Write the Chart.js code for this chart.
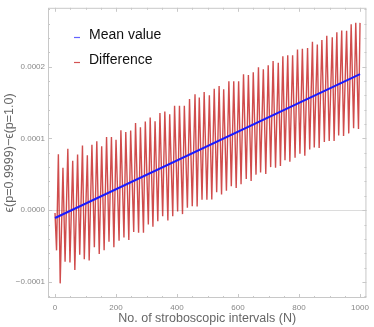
<!DOCTYPE html>
<html>
<head>
<meta charset="utf-8">
<script src="https://cdn.jsdelivr.net/npm/chart.js@4.4.1/dist/chart.umd.min.js"></script>
<style>
  body { margin: 0; background: #fff; }
</style>
</head>
<body>
<canvas id="c" width="374" height="327"></canvas>
<script>
// start of the difference curve
const startN = 0;
const startV = -0.4e-5;

// local minima (each one comes just before the peak with the same index)
const troughN = [5, 17, 33, 49, 65, 81, 96, 112, 129, 145,
    161, 177, 193, 210, 226, 242, 258, 274, 290, 306,
    321, 337, 353, 370, 386, 402, 418, 434, 450, 466,
    482, 498, 514, 530, 546, 562, 578, 594, 610, 627,
    643, 659, 674, 691, 707, 723, 739, 754, 770, 787,
    803, 819, 835, 850, 866, 883, 899, 915, 930, 946,
    963, 979, 995];
const troughV = [-5.6e-5, -10.2e-5, -7.2e-5, -7.3e-5, -8.35e-5, -6.2e-5, -6.85e-5, -7.0e-5, -5.15e-5, -6.1e-5,
    -5.6e-5, -4.4e-5, -5.15e-5, -4.25e-5, -3.8e-5, -4.15e-5, -3.05e-5, -3.15e-5, -3.15e-5, -2.0e-5,
    -2.3e-5, -1.55e-5, -0.85e-5, -1.45e-5, -0.85e-5, -0.2e-5, -0.55e-5, 0.35e-5, 0.55e-5, 0.5e-5,
    1.45e-5, 1.45e-5, 1.5e-5, 2.5e-5, 2.2e-5, 2.7e-5, 3.35e-5, 3.1e-5, 3.6e-5, 4.35e-5,
    4.05e-5, 4.95e-5, 5.25e-5, 5.05e-5, 6.0e-5, 5.9e-5, 6.15e-5, 6.95e-5, 6.75e-5, 7.3e-5,
    7.85e-5, 7.6e-5, 8.45e-5, 8.75e-5, 8.65e-5, 9.5e-5, 9.65e-5, 9.65e-5, 10.4e-5, 10.35e-5,
    10.7e-5, 11.4e-5, 11.3e-5];

// local maxima
const peakN = [11, 26, 42, 58, 74, 90, 106, 121, 137, 153,
    169, 185, 200, 216, 232, 248, 264, 280, 296, 312,
    328, 344, 360, 376, 392, 408, 424, 441, 459, 473,
    489, 506, 522, 538, 553, 570, 586, 602, 618, 634,
    650, 667, 683, 699, 715, 732, 747, 763, 779, 795,
    811, 828, 844, 860, 875, 891, 909, 924, 940, 956,
    971, 986, 1000];
const peakV = [7.8e-5, 5.9e-5, 8.55e-5, 6.9e-5, 7.75e-5, 9.0e-5, 7.65e-5, 9.1e-5, 9.6e-5, 8.9e-5,
    10.2e-5, 10.2e-5, 9.8e-5, 11.15e-5, 10.9e-5, 11.1e-5, 12.15e-5, 11.55e-5, 12.35e-5, 12.9e-5,
    12.4e-5, 13.55e-5, 13.75e-5, 13.35e-5, 14.55e-5, 14.55e-5, 14.55e-5, 15.5e-5, 16.15e-5, 15.7e-5,
    16.45e-5, 16.0e-5, 16.9e-5, 17.3e-5, 16.85e-5, 17.95e-5, 17.95e-5, 17.95e-5, 18.95e-5, 18.85e-5,
    19.2e-5, 19.9e-5, 19.65e-5, 20.2e-5, 20.8e-5, 20.55e-5, 21.45e-5, 21.6e-5, 21.6e-5, 22.4e-5,
    22.5e-5, 22.6e-5, 23.45e-5, 23.1e-5, 23.7e-5, 24.3e-5, 24.1e-5, 24.8e-5, 25.05e-5, 25.0e-5,
    25.9e-5, 26.1e-5, 26.1e-5];

// mean value line (end points)
const meanN = [0, 1000];
const meanV = [-1.09e-5, 18.95e-5];

const xTicks = [0, 200, 400, 600, 800, 1000];
const xMinor = [50, 100, 150, 250, 300, 350, 450, 500, 550, 650, 700, 750, 850, 900, 950];
const yTicks = [-0.0001, 0, 0.0001, 0.0002];
const yMinor = [-0.00012, -0.00008, -0.00006, -0.00004, -0.00002, 0.00002, 0.00004, 0.00006, 0.00008,
    0.00012, 0.00014, 0.00016, 0.00018, 0.00022, 0.00024, 0.00026, 0.00028];

const seriesNames = ['Mean value', 'Difference'];

let diffPoints = [{x: startN, y: startV}];
for (let i = 0; i < peakN.length; i++) {
    diffPoints.push({x: troughN[i], y: troughV[i]});
    diffPoints.push({x: peakN[i], y: peakV[i]});
}
const meanPoints = meanN.map((n, i) => ({x: n, y: meanV[i]}));

// frame with inward ticks like the original
const framePlugin = {
    id: 'frame',
    beforeDatasetsDraw(chart) {
        const {ctx, chartArea: a, scales} = chart;
        ctx.save();
        ctx.strokeStyle = '#c8c8c8';
        ctx.lineWidth = 1;
        ctx.strokeRect(a.left + 0.5, a.top + 0.5, a.right - a.left - 1, a.bottom - a.top - 1);
        ctx.beginPath();
        const tickX = (v, len) => {
            const px = Math.round(scales.x.getPixelForValue(v)) + 0.5;
            ctx.moveTo(px, a.bottom); ctx.lineTo(px, a.bottom - len);
            ctx.moveTo(px, a.top); ctx.lineTo(px, a.top + len);
        };
        const tickY = (v, len) => {
            const py = Math.round(scales.y.getPixelForValue(v)) + 0.5;
            if (py < a.top || py > a.bottom) return;
            ctx.moveTo(a.left, py); ctx.lineTo(a.left + len, py);
            ctx.moveTo(a.right, py); ctx.lineTo(a.right - len, py);
        };
        xTicks.forEach(v => tickX(v, 4));
        xMinor.forEach(v => tickX(v, 2));
        yTicks.forEach(v => tickY(v, 4));
        yMinor.forEach(v => tickY(v, 2));
        ctx.stroke();
        ctx.restore();
    },
    afterDraw(chart) {
        const ctx = chart.ctx;
        ctx.save();
        ctx.font = '14px "Liberation Sans", Arial, sans-serif';
        ctx.fillStyle = '#111';
        ctx.textBaseline = 'alphabetic';
        const rows = [39, 64];
        seriesNames.forEach((name, i) => {
            ctx.strokeStyle = i === 0 ? 'rgba(60,60,255,0.8)' : 'rgba(200,40,40,0.8)';
            ctx.lineWidth = 1.2;
            ctx.beginPath();
            ctx.moveTo(74, rows[i] - 1.5);
            ctx.lineTo(80, rows[i] - 1.5);
            ctx.stroke();
            ctx.fillText(name, 89, rows[i]);
        });
        ctx.restore();
    }
};

new Chart(document.getElementById('c'), {
    type: 'line',
    data: {
        datasets: [{
            label: seriesNames[0],
            data: meanPoints,
            borderColor: '#1a1aff',
            borderWidth: 2,
            pointRadius: 0,
            tension: 0
        }, {
            label: seriesNames[1],
            data: diffPoints,
            borderColor: 'rgba(188,0,0,0.7)',
            borderWidth: 1.4,
            pointRadius: 0,
            tension: 0
        }]
    },
    options: {
        responsive: false,
        animation: false,
        layout: { padding: { top: 1, right: 4, left: 0, bottom: 0 } },
        plugins: {
            legend: { display: false },
            tooltip: { enabled: false }
        },
        scales: {
            x: {
                type: 'linear',
                min: -23,
                max: 1021,
                afterBuildTicks: s => { s.ticks = xTicks.map(v => ({value: v})); },
                afterFit: s => { s.height = 29; },
                grid: { display: false, drawTicks: false },
                border: { display: false },
                ticks: {
                    color: '#888',
                    padding: 5,
                    maxRotation: 0,
                    font: { size: 8, family: '"Liberation Sans", Arial, sans-serif' },
                    callback: v => String(v)
                },
                title: {
                    display: true,
                    text: 'No. of stroboscopic intervals (N)',
                    color: '#666',
                    padding: { top: 1, bottom: 1 },
                    font: { size: 12.5, family: '"Liberation Sans", Arial, sans-serif' }
                }
            },
            y: {
                min: -0.0001224,
                max: 0.000282,
                afterBuildTicks: s => { s.ticks = yTicks.map(v => ({value: v})); },
                afterFit: s => { s.width = 48; },
                grid: {
                    drawTicks: false,
                    color: c => (c.tick && c.tick.value === 0) ? '#dcdcdc' : 'rgba(0,0,0,0)'
                },
                border: { display: false },
                ticks: {
                    color: '#888',
                    padding: 3,
                    font: { size: 8, family: '"Liberation Sans", Arial, sans-serif' },
                    callback: v => (v < 0 ? '\u2212' : '') + Math.abs(v).toFixed(4)
                },
                title: {
                    display: true,
                    text: '\u03f5(p=0.9999)\u2212\u03f5(p=1.0)',
                    color: '#666',
                    padding: { top: 2, bottom: 2 },
                    font: { size: 12.5, family: '"Liberation Sans", Arial, sans-serif' }
                }
            }
        }
    },
    plugins: [framePlugin]
});
</script>
</body>
</html>
